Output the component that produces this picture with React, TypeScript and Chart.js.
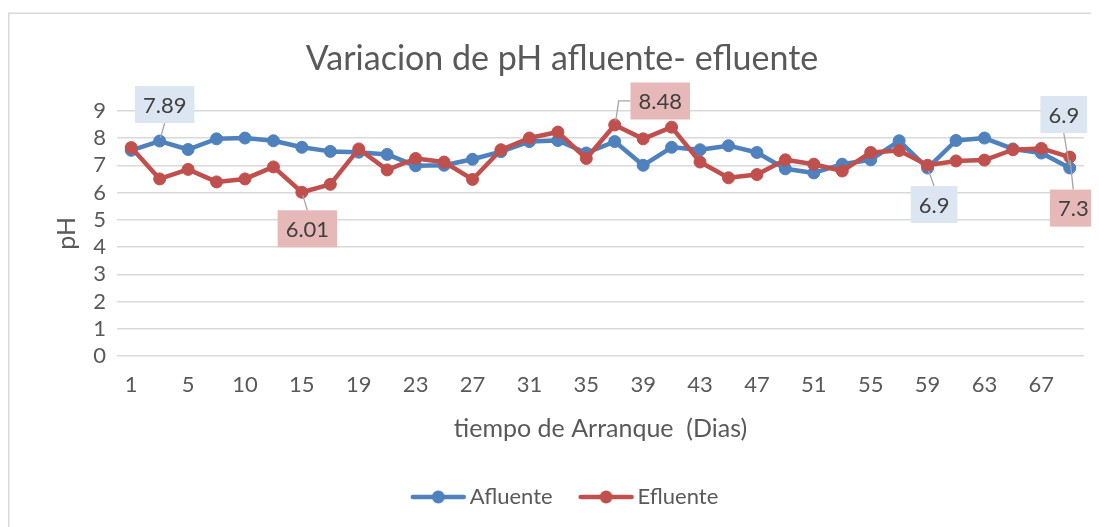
import React, { useEffect, useRef } from "react";
import { Chart, registerables } from "chart.js";

Chart.register(...registerables);

// ---- data ----
const DAYS = ["1","3","5","8","10","13","15","17","19","21","23","25","27","29","31","33","35","37","39","41","43","45","47","49","51","53","55","57","59","61","63","65","67","69"];
const AFLUENTE = [7.55,7.89,7.58,7.97,8.0,7.9,7.66,7.51,7.48,7.4,6.98,7.0,7.22,7.5,7.87,7.91,7.45,7.87,7.0,7.66,7.57,7.72,7.47,6.87,6.72,7.04,7.2,7.9,6.9,7.91,8.0,7.6,7.45,6.9];
const EFLUENTE = [7.65,6.5,6.85,6.39,6.5,6.94,6.01,6.3,7.6,6.83,7.25,7.12,6.48,7.57,8.0,8.22,7.25,8.48,7.97,8.4,7.12,6.54,6.66,7.2,7.04,6.79,7.47,7.54,7.0,7.16,7.19,7.57,7.62,7.3];
const SERIES_NAMES = ["Afluente", "Efluente"];
const TITLE = "Variacion de pH afluente- efluente";
const X_TITLE = "tiempo de Arranque  (Dias)";
const Y_TITLE = "pH";

// ---- styles ----
const FONT = "Lato";
const TEXT = "#595959";
const BLUE = "#4F81BD";
const RED = "#C0504D";
const GRID = "#D9D9D9";

// callout labels: dataset index, point index, box centre offset from point
const CALLOUTS = [
  { ds: 0, idx: 1, dx: 5, dy: -36.5, elbow: false },
  { ds: 1, idx: 6, dx: 5.5, dy: 36.5, elbow: false },
  { ds: 1, idx: 17, dx: 45.5, dy: -24, elbow: true },
  { ds: 0, idx: 28, dx: 6.5, dy: 36.5, elbow: false },
  { ds: 0, idx: 33, dx: -6, dy: -53.5, elbow: false },
  { ds: 1, idx: 33, dx: 3.5, dy: 51, elbow: false },
];
const CALLOUT_BG = ["#DCE6F2", "#E6B9B8"];

const borderPlugin = {
  id: "outerBorder",
  afterLayout(chart: any) {
    const lg = chart.legend;
    if (lg) {
      lg.left += 6;
      lg.right += 6;
    }
  },
  beforeDraw(chart: any) {
    const ctx = chart.ctx;
    ctx.save();
    ctx.fillStyle = "#FFFFFF";
    ctx.fillRect(0, 0, chart.width, chart.height);
    ctx.strokeStyle = GRID;
    ctx.lineWidth = 1.5;
    ctx.beginPath();
    ctx.moveTo(0.75, chart.height + 10);
    ctx.lineTo(0.75, 5.25);
    ctx.lineTo(chart.width + 10, 5.25);
    ctx.stroke();
    ctx.restore();
  },
};

const calloutPlugin = {
  id: "callouts",
  afterDraw(chart: any) {
    const ctx = chart.ctx;
    ctx.save();
    ctx.font = `22px ${FONT}`;
    CALLOUTS.forEach((c) => {
      const pt = chart.getDatasetMeta(c.ds).data[c.idx];
      const value = chart.data.datasets[c.ds].data[c.idx];
      const text = String(value);
      const tw = ctx.measureText(text).width;
      const w = tw + 16;
      const h = 37;
      const cx = pt.x + c.dx;
      const cy = pt.y + c.dy;
      const left = cx - w / 2;
      const top = cy - h / 2;
      ctx.strokeStyle = "#A6A6A6";
      ctx.lineWidth = 1.3;
      ctx.beginPath();
      if (c.elbow) {
        ctx.moveTo(left, cy);
        ctx.lineTo(pt.x + 4, cy);
        ctx.lineTo(pt.x + 1, pt.y - 4);
      } else {
        const sx = cx;
        const sy = c.dy < 0 ? top + h : top;
        const ddx = pt.x - sx;
        const ddy = pt.y - sy;
        const len = Math.hypot(ddx, ddy);
        const k = (len - 3) / len;
        ctx.moveTo(sx, sy);
        ctx.lineTo(sx + ddx * k, sy + ddy * k);
      }
      ctx.stroke();
      ctx.fillStyle = CALLOUT_BG[c.ds];
      ctx.fillRect(left, top, w, h);
      ctx.fillStyle = "#404040";
      ctx.textAlign = "center";
      ctx.textBaseline = "middle";
      ctx.fillText(text, cx, cy + 1);
    });
    ctx.restore();
  },
};

function legendImage(color: string) {
  const c = document.createElement("canvas");
  c.width = 57;
  c.height = 16;
  const g = c.getContext("2d")!;
  g.strokeStyle = color;
  g.lineWidth = 4.5;
  g.lineCap = "round";
  g.beginPath();
  g.moveTo(3, 8);
  g.lineTo(54, 8);
  g.stroke();
  g.fillStyle = color;
  g.beginPath();
  g.arc(28.5, 8, 6.5, 0, Math.PI * 2);
  g.fill();
  return c;
}

export default function App() {
  const ref = useRef<HTMLCanvasElement>(null);
  useEffect(() => {
    const imgs = [legendImage(BLUE), legendImage(RED)];
    const chart = new Chart(ref.current!, {
      type: "line",
      data: {
        labels: DAYS,
        datasets: [
          {
            label: SERIES_NAMES[0],
            data: AFLUENTE,
            borderColor: BLUE,
            backgroundColor: BLUE,
            pointBackgroundColor: BLUE,
            pointBorderColor: BLUE,
            borderWidth: 4.5,
            pointRadius: 6,
            pointBorderWidth: 1,
            borderJoinStyle: "round",
            borderCapStyle: "round",
            order: 1,
          },
          {
            label: SERIES_NAMES[1],
            data: EFLUENTE,
            borderColor: RED,
            backgroundColor: RED,
            pointBackgroundColor: RED,
            pointBorderColor: RED,
            borderWidth: 4.5,
            pointRadius: 6,
            pointBorderWidth: 1,
            borderJoinStyle: "round",
            borderCapStyle: "round",
            order: 0,
          },
        ],
      },
      options: {
        animation: false,
        responsive: true,
        maintainAspectRatio: false,
        events: [],
        layout: { padding: { top: 0, left: 32, right: 15, bottom: 9 } },
        plugins: {
          title: {
            display: true,
            text: TITLE,
            color: TEXT,
            font: { family: FONT, size: 34, weight: "normal" },
            padding: { top: 31, bottom: 31 },
          },
          legend: {
            position: "bottom",
            labels: {
              color: TEXT,
              font: { family: FONT, size: 22 },
              usePointStyle: true,
              pointStyleWidth: 41,
              padding: 33,
              sort: (a: any, b: any) => a.datasetIndex - b.datasetIndex,
              generateLabels: (ch: any) => {
                const items = (Chart as any).defaults.plugins.legend.labels.generateLabels(ch);
                return items.map((it: any) => ({ ...it, pointStyle: imgs[it.datasetIndex], fontColor: TEXT }));
              },
            },
          },
          tooltip: { enabled: false },
        },
        scales: {
          x: {
            offset: true,
            afterFit: (s: any) => { s.height = 97; },
            grid: { display: false, drawTicks: false },
            border: { display: false },
            ticks: {
              autoSkip: false,
              maxRotation: 0,
              padding: 16,
              color: TEXT,
              font: { family: FONT, size: 22 },
              callback: (_v: any, i: number) => (i % 2 === 0 ? DAYS[i] : ""),
            },
            title: {
              display: true,
              text: X_TITLE,
              color: TEXT,
              font: { family: FONT, size: 25 },
              padding: { top: 0, bottom: 9 },
            },
          },
          y: {
            min: 0,
            max: 9,
            afterFit: (s: any) => { s.width = 77; },
            grid: { color: GRID, lineWidth: 1.5, drawTicks: false },
            border: { display: false },
            ticks: {
              stepSize: 1,
              autoSkip: false,
              padding: 11,
              color: TEXT,
              font: { family: FONT, size: 22 },
            },
            title: {
              display: true,
              text: Y_TITLE,
              color: TEXT,
              font: { family: FONT, size: 25 },
              padding: { top: 12, bottom: 0 },
            },
          },
        },
      },
      plugins: [borderPlugin, calloutPlugin],
    });
    return () => chart.destroy();
  }, []);
  return (
    <div style={{ width: 1091, height: 519, position: "relative" }}>
      <canvas ref={ref} />
    </div>
  );
}
